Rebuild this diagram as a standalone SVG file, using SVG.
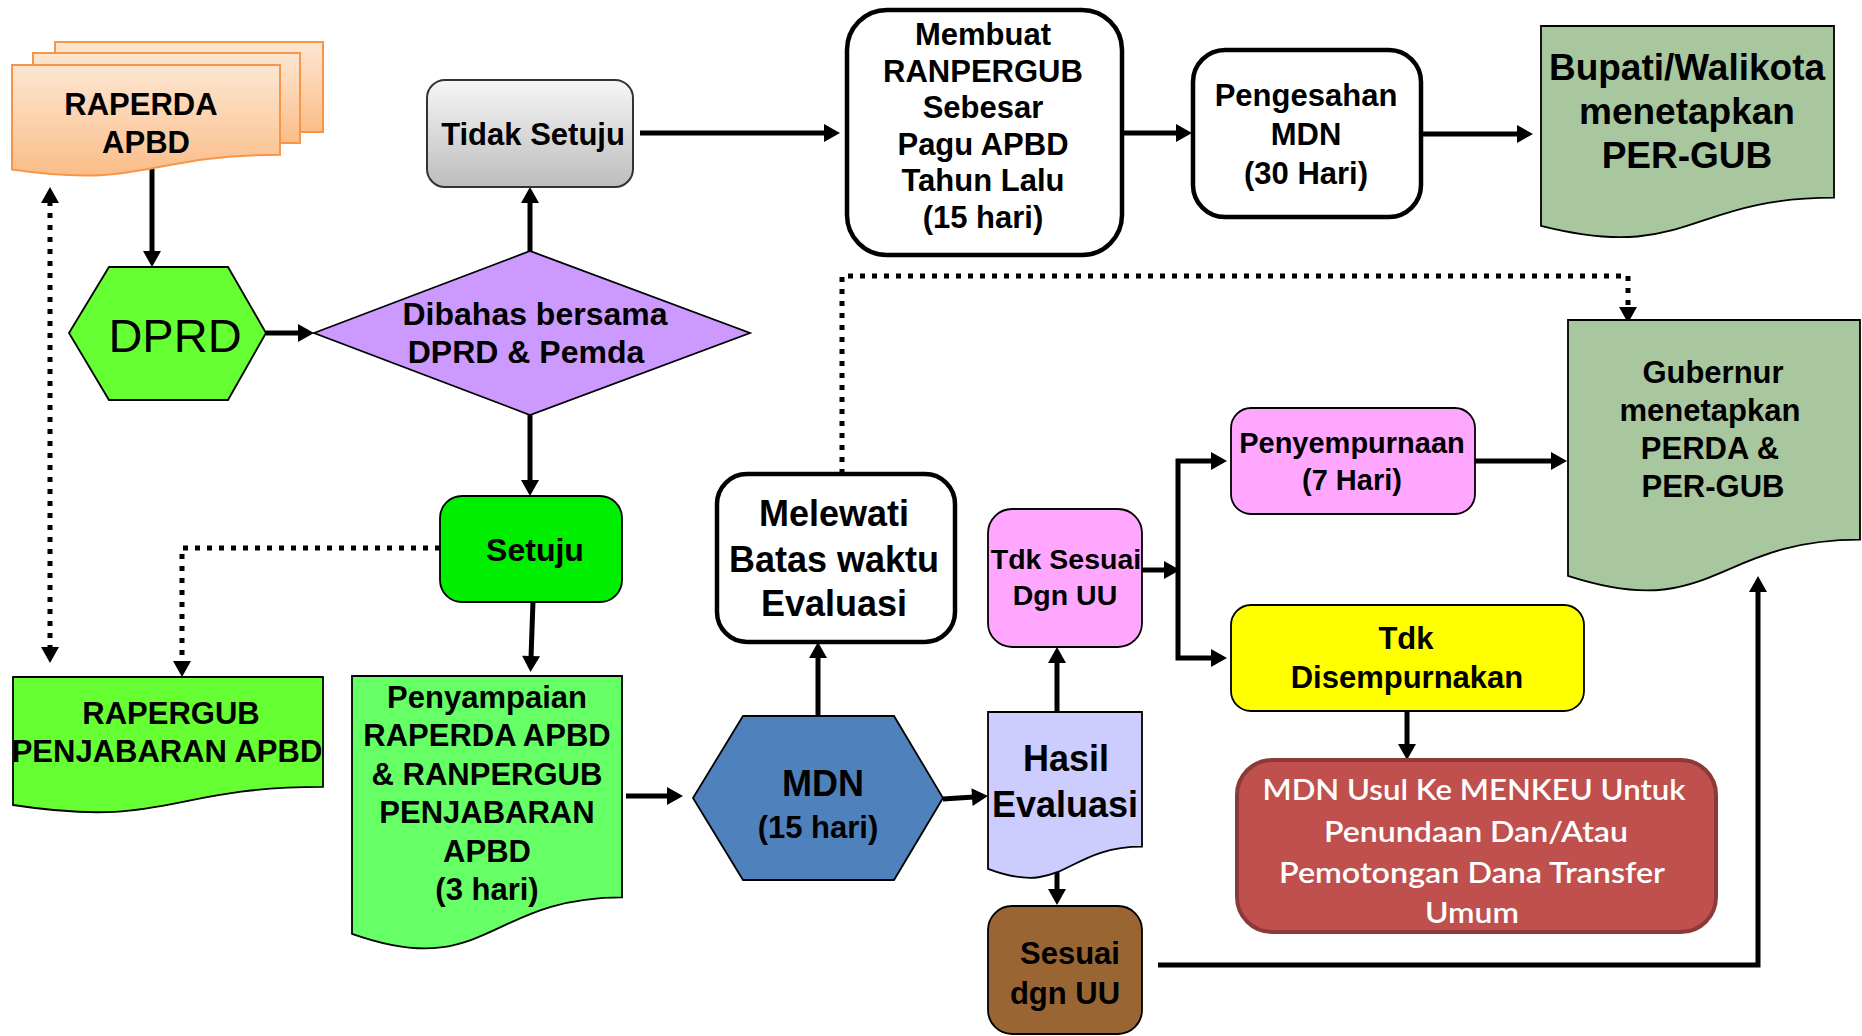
<svg xmlns="http://www.w3.org/2000/svg" width="1862" height="1036" viewBox="0 0 1862 1036">
  <defs>
    <linearGradient id="gOrange" x1="0" y1="0" x2="0" y2="1">
      <stop offset="0" stop-color="#fde6d2"/>
      <stop offset="1" stop-color="#fbbd88"/>
    </linearGradient>
    <linearGradient id="gGray" x1="0" y1="0" x2="0" y2="1">
      <stop offset="0" stop-color="#f6f6f6"/>
      <stop offset="1" stop-color="#bdbdbd"/>
    </linearGradient>
    <marker id="ah" markerUnits="userSpaceOnUse" markerWidth="18" markerHeight="18" refX="2" refY="9" orient="auto" overflow="visible">
      <path d="M0,0 L16,9 L0,18 z" fill="#000"/>
    </marker>
    <marker id="ahs" markerUnits="userSpaceOnUse" markerWidth="18" markerHeight="18" refX="2" refY="9" orient="auto-start-reverse" overflow="visible">
      <path d="M0,0 L16,9 L0,18 z" fill="#000"/>
    </marker>
    <style>
      .t { font-family: "Liberation Sans", Arial, sans-serif; font-weight: bold; font-size: 31px; fill: #000; text-anchor: middle; }
      .big { font-size: 36px; }
      .huge { font-size: 37px; }
      .s32 { font-size: 32px; }
      .s29 { font-size: 29px; }
      .s28 { font-size: 28.5px; }
      .w { font-family: Lato, "Open Sans", sans-serif; font-weight: 600; font-size: 29px; fill: #fff; text-anchor: middle; }
      .thin { stroke: #000; stroke-width: 1.8; }
      .thick { fill: #fff; stroke: #000; stroke-width: 4.5; }
      .c { fill: none; stroke: #000; stroke-width: 5; marker-end: url(#ah); }
      .d { fill: none; stroke: #000; stroke-width: 5; stroke-dasharray: 5 7; marker-end: url(#ah); }
    </style>
  </defs>

  <!-- connectors -->
  <g id="connectors">
    <path class="c" d="M152,168 V253"/>
    <path class="c" d="M266,333 H300"/>
    <path class="c" d="M530,251 V201"/>
    <path class="c" d="M640,133 H826"/>
    <path class="c" d="M1122,133 H1178"/>
    <path class="c" d="M1422,134 H1519"/>
    <path class="c" d="M530,415 V482"/>
    <path class="c" d="M533,601 L531,658"/>
    <path class="d" d="M440,548 H182 V663"/>
    <path class="d" d="M50,201 V649" marker-start="url(#ahs)"/>
    <path class="c" d="M626,796 H669"/>
    <path class="c" d="M818,716 V656"/>
    <path class="c" d="M943,799 L974,797"/>
    <path class="c" d="M1057,712 V661"/>
    <path class="c" d="M1057,868 V891"/>
    <path class="c" d="M1142,570 H1166"/>
    <path class="c" d="M1178,570 V461 H1213"/>
    <path class="c" d="M1178,570 V658 H1213"/>
    <path class="c" d="M1474,461 H1553"/>
    <path class="c" d="M1407,711 V746"/>
    <path class="c" d="M1158,965 H1758 V590"/>
    <path class="d" d="M842,474 V276 H1628 V309"/>
  </g>

  <!-- RAPERDA APBD: stacked documents -->
  <g id="raperda">
    <rect x="55" y="42" width="268" height="90" fill="url(#gOrange)" stroke="#f79646" stroke-width="2"/>
    <rect x="33" y="53" width="267" height="90" fill="url(#gOrange)" stroke="#f79646" stroke-width="2"/>
    <path d="M12,65 H280 V154.8 C146,154.8 146,189 12,169.6 Z" fill="url(#gOrange)" stroke="#f79646" stroke-width="2"/>
    <text class="t" x="141" y="115">RAPERDA</text>
    <text class="t" x="146" y="153">APBD</text>
  </g>

  <g id="tidak-setuju">
    <rect x="427" y="80" width="206" height="107" rx="18" fill="url(#gGray)" stroke="#333" stroke-width="2"/>
    <text class="t" x="533" y="145">Tidak Setuju</text>
  </g>

  <g id="membuat">
    <rect class="thick" x="847" y="10" width="275" height="245" rx="40"/>
    <text class="t" x="983" y="45">Membuat</text>
    <text class="t" x="983" y="81.5">RANPERGUB</text>
    <text class="t" x="983" y="118">Sebesar</text>
    <text class="t" x="983" y="154.5">Pagu APBD</text>
    <text class="t" x="983" y="191">Tahun Lalu</text>
    <text class="t" x="983" y="227.5">(15 hari)</text>
  </g>

  <g id="pengesahan">
    <rect class="thick" x="1193" y="50" width="228" height="167" rx="32"/>
    <text class="t" x="1306" y="106">Pengesahan</text>
    <text class="t" x="1306" y="145">MDN</text>
    <text class="t" x="1306" y="184">(30 Hari)</text>
  </g>

  <g id="bupati">
    <path class="thin" d="M1541,26 H1834 V197.6 C1687.5,197.6 1687.5,262.9 1541,225.9 Z" fill="#a9c79f"/>
    <text class="t huge" x="1687" y="80">Bupati/Walikota</text>
    <text class="t huge" x="1687" y="124">menetapkan</text>
    <text class="t huge" x="1687" y="168">PER-GUB</text>
  </g>

  <g id="dprd">
    <polygon class="thin" points="69,333 109,267 228,267 266,333 228,400 109,400" fill="#66ff33"/>
    <text x="175" y="352" font-family="Liberation Sans, Arial, sans-serif" font-size="47" text-anchor="middle" fill="#000">DPRD</text>
  </g>

  <g id="dibahas">
    <polygon class="thin" points="314,333 530,251 750,333 530,415" fill="#cc99ff"/>
    <text class="t s32" x="535" y="325">Dibahas bersama</text>
    <text class="t s32" x="526" y="363">DPRD &amp; Pemda</text>
  </g>

  <g id="setuju">
    <rect class="thin" x="440" y="496" width="182" height="106" rx="22" fill="#00ee00"/>
    <text class="t s32" x="535" y="561">Setuju</text>
  </g>

  <g id="rapergub">
    <path class="thin" d="M13,677 H323 V786.9 C168,786.9 168,828.7 13,805 Z" fill="#66ff33"/>
    <text class="t" x="171" y="724">RAPERGUB</text>
    <text class="t" x="167" y="762">PENJABARAN APBD</text>
  </g>

  <g id="penyampaian">
    <path class="thin" d="M352,676 H622 V897.4 C487,897.4 487,981.5 352,933.8 Z" fill="#66ff66"/>
    <text class="t" x="487" y="708">Penyampaian</text>
    <text class="t" x="487" y="746">RAPERDA APBD</text>
    <text class="t" x="487" y="785">&amp; RANPERGUB</text>
    <text class="t" x="487" y="823">PENJABARAN</text>
    <text class="t" x="487" y="862">APBD</text>
    <text class="t" x="487" y="900">(3 hari)</text>
  </g>

  <g id="melewati">
    <rect class="thick" x="717" y="474" width="238" height="168" rx="30"/>
    <text class="t big" x="834" y="526">Melewati</text>
    <text class="t big" x="834" y="572">Batas waktu</text>
    <text class="t big" x="834" y="616">Evaluasi</text>
  </g>

  <g id="mdn">
    <polygon class="thin" points="693,798 743,716 894,716 943,798 894,880 743,880" fill="#4f81bd"/>
    <text class="t big" x="823" y="796">MDN</text>
    <text class="t" x="818" y="838">(15 hari)</text>
  </g>

  <g id="hasil">
    <path class="thin" d="M988,712 H1142 V846.7 C1065,846.7 1065,898 988,868.9 Z" fill="#ccccff"/>
    <text class="t big" x="1066" y="771">Hasil</text>
    <text class="t big" x="1065" y="817">Evaluasi</text>
  </g>

  <g id="tdk-sesuai">
    <rect class="thin" x="988" y="509" width="154" height="138" rx="24" fill="#ffa6ff"/>
    <text class="t s28" x="1066" y="569">Tdk Sesuai</text>
    <text class="t s28" x="1065" y="605">Dgn UU</text>
  </g>

  <g id="sesuai">
    <rect class="thin" x="988" y="906" width="154" height="128" rx="24" fill="#996633"/>
    <text class="t" x="1070" y="964">Sesuai</text>
    <text class="t" x="1065" y="1004">dgn UU</text>
  </g>

  <g id="penyempurnaan">
    <rect class="thin" x="1231" y="408" width="244" height="106" rx="20" fill="#ffa6ff"/>
    <text class="t s29" x="1352" y="453">Penyempurnaan</text>
    <text class="t s29" x="1352" y="490">(7 Hari)</text>
  </g>

  <g id="gubernur">
    <path class="thin" d="M1568,320 H1860 V539.7 C1714,539.7 1714,623.3 1568,575.9 Z" fill="#a9c79f"/>
    <text class="t" x="1713" y="383">Gubernur</text>
    <text class="t" x="1710" y="421">menetapkan</text>
    <text class="t" x="1710" y="459">PERDA &amp;</text>
    <text class="t" x="1713" y="497">PER-GUB</text>
  </g>

  <g id="tdk-disempurnakan">
    <rect class="thin" x="1231" y="605" width="353" height="106" rx="20" fill="#ffff00"/>
    <text class="t" x="1406" y="649">Tdk</text>
    <text class="t" x="1407" y="688">Disempurnakan</text>
  </g>

  <g id="mdn-usul">
    <rect x="1237" y="760" width="479" height="172" rx="35" fill="#c0504d" stroke="#8c3a38" stroke-width="4"/>
    <text class="w" x="1474" y="800" textLength="423" lengthAdjust="spacingAndGlyphs">MDN Usul Ke MENKEU Untuk</text>
    <text class="w" x="1476" y="842" textLength="304" lengthAdjust="spacingAndGlyphs">Penundaan Dan/Atau</text>
    <text class="w" x="1472" y="883" textLength="386" lengthAdjust="spacingAndGlyphs">Pemotongan Dana Transfer</text>
    <text class="w" x="1472" y="923" textLength="94" lengthAdjust="spacingAndGlyphs">Umum</text>
  </g>
</svg>
